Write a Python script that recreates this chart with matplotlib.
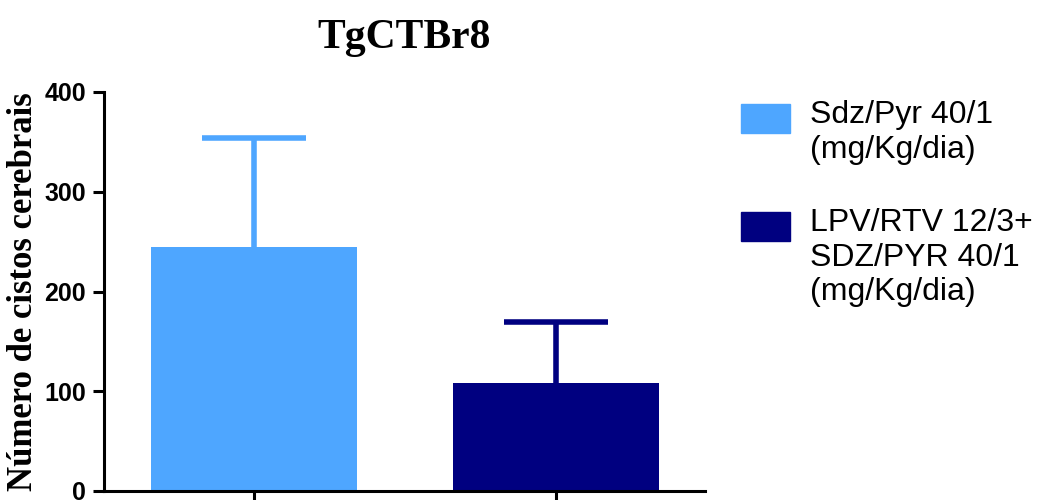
import matplotlib
matplotlib.use("Agg")
import matplotlib.pyplot as plt
from matplotlib.patches import Rectangle

# data
groups = ["Sdz/Pyr 40/1\n(mg/Kg/dia)", "LPV/RTV 12/3+\nSDZ/PYR 40/1\n(mg/Kg/dia)"]
means = [245, 108]
errors = [109, 61]
colors = ["#4ea6ff", "#000080"]

fig = plt.figure(figsize=(10.42, 5), dpi=100)
ax = fig.add_axes([104 / 1042, 9 / 500, 601 / 1042, 399 / 500])

xpos = list(range(len(means)))
ax.bar(xpos, means, width=0.68, color=colors, edgecolor="none", zorder=2)
# upper error bars only
cap = 0.172
for x, m, e, c in zip(xpos, means, errors, colors):
    ax.vlines(x, m, m + e, color=c, linewidth=4, zorder=1)
    ax.hlines(m + e, x - cap, x + cap, color=c, linewidth=4, zorder=1)

ax.set_xlim(-0.497, 1.493)
ax.set_ylim(0, 400)
ax.set_yticks([0, 100, 200, 300, 400])
ax.set_xticks(xpos)
ax.set_xticklabels(["", ""])

for side in ["top", "right"]:
    ax.spines[side].set_visible(False)
for side in ["left", "bottom"]:
    ax.spines[side].set_linewidth(2.2)
ax.tick_params(axis="both", width=2.2, length=8, pad=5)
for lab in ax.get_yticklabels():
    lab.set_fontfamily("Liberation Sans")
    lab.set_fontweight("bold")
    lab.set_fontsize(18)

fig.text(404 / 1042, 1 - 48 / 500, "TgCTBr8", ha="center", va="baseline",
         family="Liberation Serif", weight="bold", fontsize=30)
fig.text(24 / 1042, 1 - 292 / 500, "Número de cistos cerebrais", rotation=90,
         ha="center", va="center", family="Liberation Serif", weight="bold",
         fontsize=25)

# legend drawn by hand to keep the reference layout
leg_tops = [104, 212]
for top, label, c in zip(leg_tops, groups, colors):
    fig.patches.append(Rectangle((741 / 1042, 1 - (top + 29) / 500), 49 / 1042, 29 / 500,
                                 transform=fig.transFigure, color=c))
    fig.text(810 / 1042, 1 - (top - 4) / 500, label, ha="left", va="top",
             family="Liberation Sans", fontsize=23, linespacing=1.2)

fig.savefig("out.png", dpi=100)
